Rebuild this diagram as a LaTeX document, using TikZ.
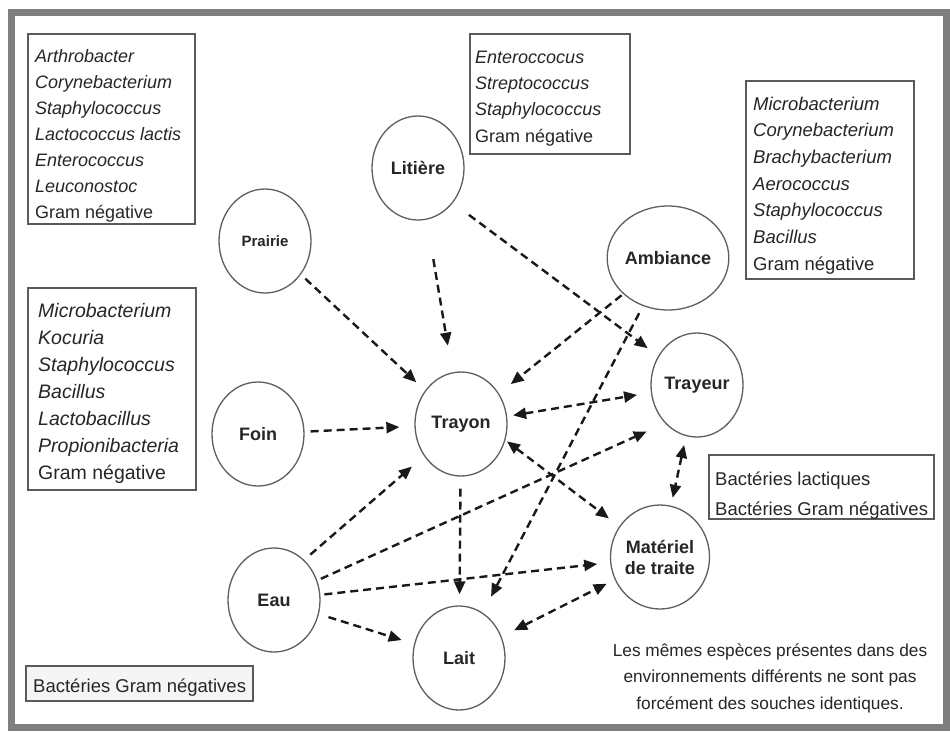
\documentclass[tikz,border=0pt]{standalone}
\usepackage{fontspec}
\setmainfont{Liberation Sans}
\usetikzlibrary{arrows.meta,shapes.geometric}
\definecolor{framegray}{HTML}{7F7F7F}
\definecolor{ink}{HTML}{262626}
\definecolor{boxline}{HTML}{5A5A5A}
\definecolor{circline}{HTML}{5E5E5E}
\begin{document}
\begin{tikzpicture}[x=1pt,y=-1pt,
  site/.style={ellipse, draw=circline, line width=1.3pt, minimum width=92pt, minimum height=104pt,
    inner sep=0pt, text=ink, align=center, font=\fontsize{18}{21}\selectfont\bfseries},
  listbox/.style={draw=boxline, line width=1.6pt, anchor=north west, inner sep=0pt},
  listtext/.style={anchor=north west, inner sep=0pt, align=left, text=ink},
  arr/.style={draw=black!90, line width=2.4pt, dash pattern=on 8pt off 5pt,
    -{Triangle[length=13pt,width=11pt]}},
  biarr/.style={draw=black!90, line width=2.4pt, dash pattern=on 8pt off 5pt,
    {Triangle[length=13pt,width=11pt]}-{Triangle[length=13pt,width=11pt]}}
]
\useasboundingbox (0,0) rectangle (950,731);
\fill[white] (0,0) rectangle (950,731);
\draw[framegray, line width=7pt] (11.5,12.5) rectangle (946.5,727.5);

% boxes
\node[listbox, minimum width=167pt, minimum height=190pt] (box1) at (27,33) {};
\node[listtext, font=\fontsize{18}{26}\selectfont] (txt1) at (35,43.8) {%
\strut\textit{Arthrobacter}\\\strut\textit{Corynebacterium}\\\strut\textit{Staphylococcus}\\%
\strut\textit{Lactococcus lactis}\\\strut\textit{Enterococcus}\\\strut\textit{Leuconostoc}\\\strut Gram négative};

\node[listbox, minimum width=160pt, minimum height=120pt] (box2) at (469,33) {};
\node[listtext, font=\fontsize{18}{26.3}\selectfont] (txt2) at (475,44.6) {%
\strut\textit{Enteroccocus}\\\strut\textit{Streptococcus}\\\strut\textit{Staphylococcus}\\\strut Gram négative};

\node[listbox, minimum width=168pt, minimum height=198pt] (box3) at (745,80) {};
\node[listtext, font=\fontsize{18.5}{26.7}\selectfont] (txt3) at (753,91.3) {%
\strut\textit{Microbacterium}\\\strut\textit{Corynebacterium}\\\strut\textit{Brachybacterium}\\%
\strut\textit{Aerococcus}\\\strut\textit{Staphylococcus}\\\strut\textit{Bacillus}\\\strut Gram négative};

\node[listbox, minimum width=168pt, minimum height=202pt] (box4) at (27,287) {};
\node[listtext, font=\fontsize{19.5}{27}\selectfont] (txt4) at (38,298.1) {%
\strut\textit{Microbacterium}\\\strut\textit{Kocuria}\\\strut\textit{Staphylococcus}\\%
\strut\textit{Bacillus}\\\strut\textit{Lactobacillus}\\\strut\textit{Propionibacteria}\\\strut Gram négative};

\node[listbox, minimum width=225pt, minimum height=64pt] (box5) at (708,454) {};
\node[listtext, font=\fontsize{18.5}{30}\selectfont] (txt5) at (715,464) {%
\strut Bactéries lactiques\\\strut Bactéries Gram négatives};

\node[listbox, fill=black!4, minimum width=227pt, minimum height=35pt] (box6) at (25,665) {};
\node[anchor=base west, inner sep=0pt, text=ink, font=\fontsize{18.5}{22}\selectfont] (txt6) at (33,692) {Bactéries Gram négatives};

\node[anchor=north, inner sep=0pt, align=center, text=ink, font=\fontsize{17.3}{26.5}\selectfont] (note) at (770,637.45) {%
\strut Les mêmes espèces présentes dans des\\\strut environnements différents ne sont pas\\\strut forcément des souches identiques.};

% sites
\node[site, font=\fontsize{15}{18}\selectfont\bfseries] (prairie) at (265,241) {Prairie};
\node[site] (litiere) at (418,168) {Litière};
\node[site] (ambiance) at (668,258) {Ambiance};
\node[site] (trayeur) at (697,385) {Trayeur};
\node[site] (trayon) at (461,424) {Trayon};
\node[site] (foin) at (258,434) {Foin};
\node[site] (materiel) at (660,557) {Matériel\\de traite};
\node[site] (eau) at (274,600) {Eau};
\node[site] (lait) at (459,658) {Lait};

% connectors
\draw[arr, shorten <=6pt, shorten >=12pt] (prairie) -- (trayon);
\draw[arr, shorten <=40pt, shorten >=27pt] (litiere) -- (trayon);
\draw[arr, shorten <=20pt, shorten >=13pt] (litiere.-45) -- (trayeur);
\draw[arr, shorten <=2pt, shorten >=15pt] (ambiance) -- (trayon);
\draw[arr, shorten <=8pt, shorten >=18pt] (ambiance) -- (lait);
\draw[arr, shorten <=6pt, shorten >=15pt] (foin) -- (trayon);
\draw[biarr, shorten <=6pt, shorten >=14pt] (trayon) -- (trayeur);
\draw[biarr, shorten <=2pt, shorten >=13pt] (trayon.-20) -- (materiel);
\draw[arr, shorten <=12pt, shorten >=11pt] (trayon) -- (lait);
\draw[arr, shorten <=8pt, shorten >=16pt] (eau.53) -- (trayon);
\draw[arr, shorten <=4pt, shorten >=20pt] (eau) -- (trayeur.230);
\draw[arr, shorten <=4pt, shorten >=13pt] (eau) -- (materiel);
\draw[arr, shorten <=10pt, shorten >=13pt] (eau) -- (lait);
\draw[biarr, shorten <=14pt, shorten >=9pt] (lait) -- (materiel);
\draw[biarr, shorten <=9pt, shorten >=8pt] (trayeur) -- (materiel);
\end{tikzpicture}
\end{document}
